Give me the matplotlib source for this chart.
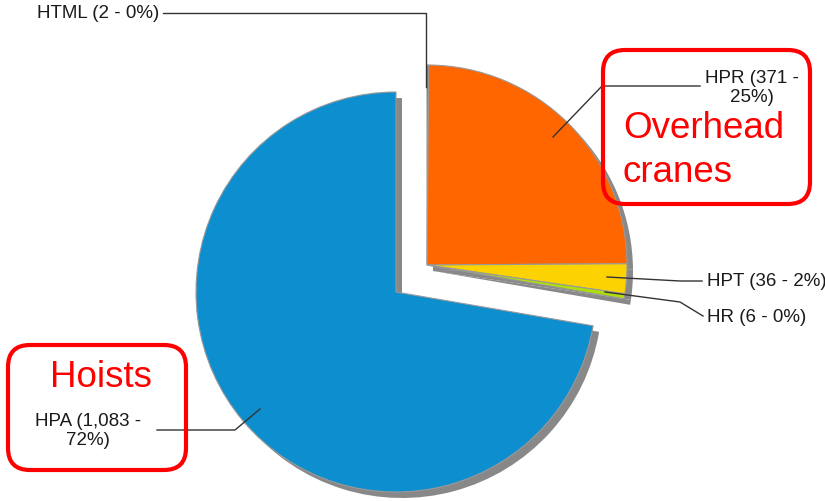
import matplotlib
matplotlib.use("Agg")
import matplotlib.pyplot as plt
from matplotlib.patches import Wedge, FancyBboxPatch
import numpy as np

# data
labels = ["HTML", "HPR", "HPT", "HR", "HPA"]
values = [2, 371, 36, 6, 1083]
colors = ["#FF0F00", "#FF6600", "#FCD202", "#B0DE09", "#0D8ECF"]
label_texts = ["HTML (2 - 0%)", "HPR (371 -\n25%)", "HPT (36 - 2%)",
               "HR (6 - 0%)", "HPA (1,083 -\n72%)"]

W, H = 825, 502
plt.rcParams['font.family'] = ['Liberation Sans', 'DejaVu Sans']

fig = plt.figure(figsize=(W / 100, H / 100), dpi=100)
ax = fig.add_axes([0, 0, 1, 1])
ax.set_xlim(0, W)
ax.set_ylim(0, H)
ax.axis("off")

def Y(y):
    return H - y

# pie geometry (pixels from top-left)
radius = 200
group_center = (427, Y(266))   # small slices + HPR
main_center = (396, Y(293))    # HPA
shadow_off = (6, -6)

total = float(sum(values))
angles = np.array(values) / total * 360.0
cum = np.concatenate([[0], np.cumsum(angles)])

wedges = []
for i, lab in enumerate(labels):
    t1 = 90 - cum[i + 1]
    t2 = 90 - cum[i]
    c = main_center if lab == "HPA" else group_center
    wedges.append((c, t1, t2, colors[i]))

# shadows first
for c, t1, t2, col in wedges:
    ax.add_patch(Wedge((c[0] + shadow_off[0], c[1] + shadow_off[1]), radius,
                       t1, t2, facecolor="#888888", edgecolor="none", zorder=1))
for c, t1, t2, col in wedges:
    ax.add_patch(Wedge(c, radius, t1, t2, facecolor=col,
                       edgecolor="#999999", linewidth=0.8, zorder=2))

# leader lines
line_kw = dict(color="#333333", linewidth=1.0, zorder=4)
leaders = [
    [(163, 14), (426, 14), (426, 88)],
    [(553, 138), (602, 87), (700, 87)],
    [(607, 278), (680, 282), (702, 282)],
    [(605, 293), (680, 303), (703, 317)],
    [(157, 431), (235, 431), (260, 410)],
]
for pts in leaders:
    xs = [p[0] for p in pts]
    ys = [Y(p[1]) for p in pts]
    ax.plot(xs, ys, **line_kw)

txt_kw = dict(fontsize=13.5, color="#1a1a1a", zorder=5, linespacing=1.15)
ax.text(37, Y(14), label_texts[0], ha="left", va="center", **txt_kw)
ax.text(752, Y(88), label_texts[1], ha="center", va="center", multialignment="center", **txt_kw)
ax.text(707, Y(282), label_texts[2], ha="left", va="center", **txt_kw)
ax.text(707, Y(317), label_texts[3], ha="left", va="center", **txt_kw)
ax.text(88, Y(431), label_texts[4], ha="center", va="center", multialignment="center", **txt_kw)

# red annotation boxes
def red_box(x0, y0, x1, y1):
    ax.add_patch(FancyBboxPatch((x0, Y(y1)), x1 - x0, y1 - y0,
                                boxstyle="round,pad=0,rounding_size=22",
                                facecolor="none", edgecolor="#FF0000",
                                linewidth=3, zorder=6))

red_box(603, 51, 810, 205)
red_box(8, 346, 186, 471)

red_kw = dict(fontsize=26.5, color="#FF0000", zorder=7)
ax.text(623, Y(128), "Overhead", ha="left", va="center", **red_kw)
ax.text(623, Y(173), "cranes", ha="left", va="center", **red_kw)
ax.text(101, Y(378), "Hoists", ha="center", va="center", **red_kw)

fig.savefig("out.png", dpi=100)
